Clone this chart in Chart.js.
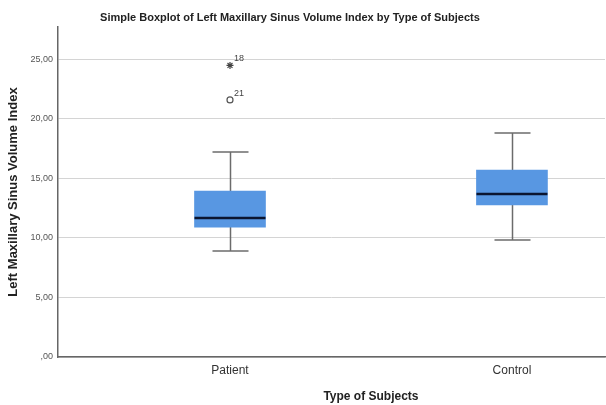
<!DOCTYPE html>
<html>
<head>
<meta charset="utf-8">
<script src="https://cdn.jsdelivr.net/npm/chart.js@4"></script>
<style>
html,body{margin:0;padding:0;background:#fff;}
#wrap{width:606px;height:405px;position:relative;}
</style>
</head>
<body>
<div id="wrap"><canvas id="c"></canvas></div>
<script>
// ---- data ----
const categories = ['Patient', 'Control'];
const whiskerLow  = [8.91, 9.83];
const q1          = [10.92, 12.77];
const median      = [11.68, 13.70];
const q3          = [13.95, 15.71];
const whiskerHigh = [17.23, 18.82];
const outlierCategory = [0, 0];
const outlierValues   = [24.5, 21.6];
const outlierCases    = ['18', '21'];
const outlierKinds    = ['extreme', 'outlier'];
const yTicks = [0, 5, 10, 15, 20, 25];

const chartTitle = 'Simple Boxplot of Left Maxillary Sinus Volume Index by Type of Subjects';
const xTitle = 'Type of Subjects';
const yTitle = 'Left Maxillary Sinus Volume Index';

// ---- derived tables ----
const catPos = categories.map((c, i) => i + 1);
const boxData = categories.map((c, i) => ({ x: catPos[i], y: [q1[i], q3[i]] }));
const extremePts = [], outlierPts = [];
outlierValues.forEach((v, i) => {
  const p = { x: catPos[outlierCategory[i]], y: v };
  (outlierKinds[i] === 'extreme' ? extremePts : outlierPts).push(p);
});

const BOX_W = 71, CAP_W = 36;
const fmt = v => v === 0 ? ',00' : v.toFixed(2).replace('.', ',');
const FONT = '"Liberation Sans", Arial, sans-serif';

const boxPlugin = {
  id: 'boxParts',
  beforeDatasetsDraw(chart) {
    const { ctx, scales: { x, y } } = chart;
    ctx.save();
    ctx.strokeStyle = '#6b6b6b';
    ctx.lineWidth = 1.5;
    categories.forEach((c, i) => {
      const px = Math.round(x.getPixelForValue(catPos[i])) + 0.5;
      ctx.beginPath();
      ctx.moveTo(px, y.getPixelForValue(whiskerLow[i]));
      ctx.lineTo(px, y.getPixelForValue(whiskerHigh[i]));
      ctx.stroke();
      [whiskerLow[i], whiskerHigh[i]].forEach(v => {
        const py = y.getPixelForValue(v);
        ctx.beginPath();
        ctx.moveTo(px - CAP_W / 2, py);
        ctx.lineTo(px + CAP_W / 2, py);
        ctx.stroke();
      });
    });
    ctx.restore();
  },
  afterDatasetsDraw(chart) {
    const { ctx, scales: { x, y } } = chart;
    ctx.save();
    ctx.strokeStyle = '#0b1530';
    ctx.lineWidth = 2.5;
    categories.forEach((c, i) => {
      const px = x.getPixelForValue(catPos[i]);
      const py = y.getPixelForValue(median[i]);
      ctx.beginPath();
      ctx.moveTo(px - BOX_W / 2, py);
      ctx.lineTo(px + BOX_W / 2, py);
      ctx.stroke();
    });
    ctx.fillStyle = '#444';
    ctx.font = '9px ' + FONT;
    ctx.textAlign = 'left';
    ctx.textBaseline = 'bottom';
    outlierValues.forEach((v, i) => {
      const px = x.getPixelForValue(catPos[outlierCategory[i]]);
      const py = y.getPixelForValue(v);
      ctx.fillText(outlierCases[i], px + 4, py - 2);
    });
    ctx.restore();
  },
  afterDraw(chart) {
    const { ctx, scales: { x } } = chart;
    ctx.save();
    ctx.fillStyle = '#222';
    ctx.font = 'bold 11px ' + FONT;
    ctx.textAlign = 'center';
    ctx.textBaseline = 'middle';
    ctx.fillText(chartTitle, 290, 18);
    ctx.font = 'bold 12px ' + FONT;
    const mid = (x.getPixelForValue(catPos[0]) + x.getPixelForValue(catPos[catPos.length - 1])) / 2;
    ctx.fillText(xTitle, mid, 397);
    ctx.restore();
  }
};

new Chart(document.getElementById('c'), {
  data: {
    datasets: [
      {
        type: 'bar',
        data: boxData,
        backgroundColor: '#5897e2',
        borderWidth: 0,
        barThickness: BOX_W,
        order: 2
      },
      {
        type: 'scatter',
        data: extremePts,
        pointStyle: 'star',
        pointRadius: 3.5,
        borderColor: '#444',
        borderWidth: 1.2,
        backgroundColor: '#444',
        order: 1
      },
      {
        type: 'scatter',
        data: outlierPts,
        pointStyle: 'circle',
        pointRadius: 3,
        borderColor: '#555',
        borderWidth: 1.2,
        backgroundColor: '#fff',
        order: 1
      }
    ]
  },
  options: {
    responsive: true,
    maintainAspectRatio: false,
    animation: false,
    layout: { autoPadding: false, padding: { top: 27, right: 1, left: 0, bottom: 0 } },
    plugins: { legend: { display: false }, tooltip: { enabled: false }, title: { display: false } },
    scales: {
      x: {
        type: 'linear',
        offset: false,
        min: 0.39,
        max: 2.33,
        afterBuildTicks: s => { s.ticks = catPos.map(v => ({ value: v })); },
        afterFit: s => { s.height = 48; s.paddingLeft = 0; s.paddingRight = 0; },
        ticks: {
          callback: v => categories[catPos.indexOf(v)] || '',
          color: '#333',
          font: { family: FONT, size: 12 },
          padding: 6,
          maxRotation: 0,
          autoSkip: false
        },
        grid: { display: false, drawTicks: false, offset: false },
        border: { color: '#666', width: 1.5 },
        title: { display: false }
      },
      y: {
        type: 'linear',
        min: 0,
        max: 27.73,
        afterBuildTicks: s => { s.ticks = yTicks.map(v => ({ value: v })); },
        afterFit: s => { s.width = 58; },
        ticks: {
          callback: v => fmt(v),
          color: '#555',
          font: { family: FONT, size: 9 },
          padding: 5
        },
        grid: { color: '#d4d4d4', lineWidth: 1, drawTicks: false },
        border: { color: '#666', width: 1.5 },
        title: {
          display: true,
          text: yTitle,
          color: '#222',
          font: { family: FONT, size: 13, weight: 'bold' },
          padding: { top: 6, bottom: 2 }
        }
      }
    }
  },
  plugins: [boxPlugin]
});
</script>
</body>
</html>
